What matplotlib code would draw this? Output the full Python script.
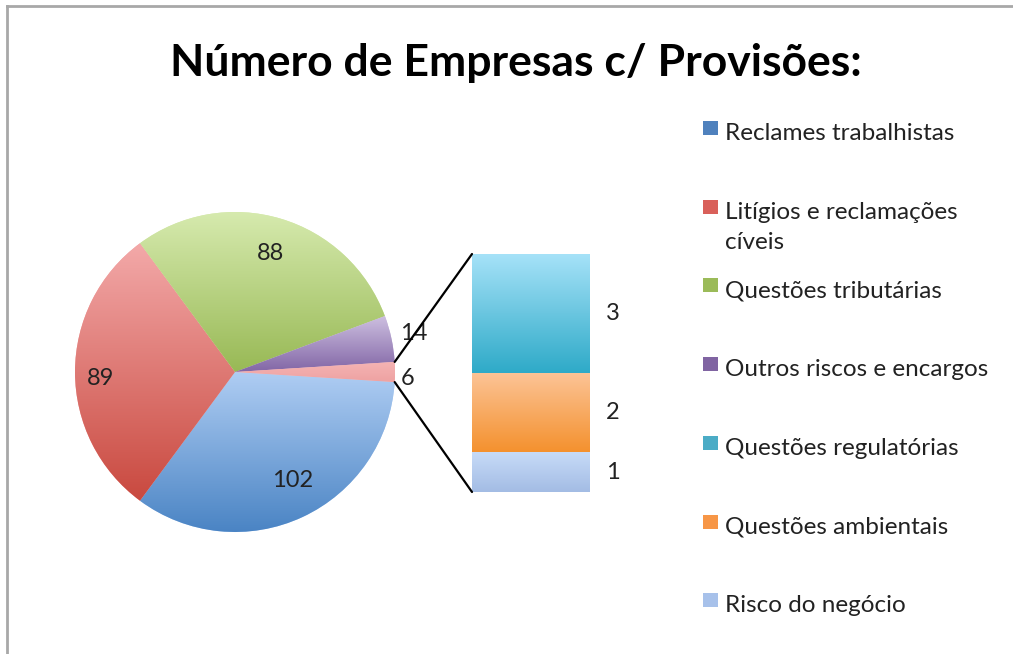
import numpy as np
import matplotlib
matplotlib.use("Agg")
import matplotlib.pyplot as plt
from matplotlib.patches import ConnectionPatch, Rectangle
from matplotlib.colors import to_rgb

plt.rcParams['font.family'] = ['Lato', 'DejaVu Sans']

title = "Número de Empresas c/ Provisões:"

# pie: main categories + "other" slice
pie_values = [102, 89, 88, 14, 6]
pie_top = ['#afcdf3', '#f3a9a9', '#d6eaae', '#cdbfe0', '#f5b4b4']
pie_bottom = ['#4a84c4', '#c9493f', '#98b955', '#8266a6', '#eea2a2']

# bar: breakdown of the "other" slice (bottom to top)
bar_values = [1, 2, 3]
bar_top = ['#c7dbf8', '#fcc497', '#a6e2f8']
bar_bottom = ['#a3bce4', '#f4912e', '#2eaac8']

legend_labels = ["Reclames trabalhistas", "Litígios e reclamações\ncíveis",
                 "Questões tributárias", "Outros riscos e encargos",
                 "Questões regulatórias", "Questões ambientais", "Risco do negócio"]
legend_colors = ['#4f81bd', '#d9605a', '#9bbb59', '#8064a2', '#4bacc6', '#f79646', '#a7c1ea']

W, H = 1013, 654
fig = plt.figure(figsize=(W / 100, H / 100), dpi=100)
fig.patch.set_facecolor('white')


def gradient_fill(ax, patch, c_top, c_bot, extent):
    t = np.linspace(0, 1, 256)[:, None]
    a, b = np.array(to_rgb(c_top)), np.array(to_rgb(c_bot))
    img = (a[None, None, :] * (1 - t[:, :, None]) + b[None, None, :] * t[:, :, None])
    img = np.repeat(img, 2, axis=1)
    im = ax.imshow(img, extent=extent, origin='upper', aspect='auto',
                   zorder=patch.get_zorder() + 0.1, interpolation='bilinear')
    im.set_clip_path(patch)


# pie axes
ax_pie = fig.add_axes([75 / W, (H - 532) / H, 320 / W, 320 / H])
total = sum(pie_values)
start = -pie_values[-1] / total * 360 / 2
wedges, _ = ax_pie.pie(pie_values, startangle=start, counterclock=False,
                       colors=pie_top, radius=1)
for w, ct, cb in zip(wedges, pie_top, pie_bottom):
    w.set_linewidth(0)
    bb = w.get_path().get_extents()
    gradient_fill(ax_pie, w, ct, cb, [bb.x0, bb.x1, bb.y0, bb.y1])

# pie labels
label_pos = [(0.36, -0.68), (-0.84, -0.04), (0.22, 0.74), (1.12, 0.24), (1.08, -0.04)]
for v, (x, y) in zip(pie_values, label_pos):
    ax_pie.text(x, y, str(v), fontsize=17, ha='center', va='center', color='#222222', zorder=5)
ax_pie.set_xlim(-1, 1)
ax_pie.set_ylim(-1, 1)
ax_pie.set_aspect('equal')
ax_pie.axis('off')

# bar axes
ax_bar = fig.add_axes([472 / W, (H - 492) / H, 118 / W, 238 / H])
bottom = 0
for v, ct, cb in zip(bar_values, bar_top, bar_bottom):
    r = ax_bar.bar(0, v, bottom=bottom, width=1, color=ct, linewidth=0)[0]
    gradient_fill(ax_bar, r, ct, cb, [-0.5, 0.5, bottom, bottom + v])
    ax_bar.text(0.69, bottom + v / 2, str(v), fontsize=17, ha='center', va='center',
                color='#222222')
    bottom += v
ax_bar.set_xlim(-0.5, 0.5)
ax_bar.set_ylim(0, sum(bar_values))
ax_bar.axis('off')

# connector lines
half = np.deg2rad(pie_values[-1] / total * 360 / 2)
for sgn, yb in [(1, sum(bar_values)), (-1, 0)]:
    con = ConnectionPatch(xyA=(np.cos(half), sgn * np.sin(half)), coordsA=ax_pie.transData,
                          xyB=(-0.5, yb), coordsB=ax_bar.transData,
                          color='black', linewidth=1.6)
    fig.add_artist(con)

# title
fig.text(516 / W, 1 - 63 / H, title, fontsize=32, fontweight='bold',
         ha='center', va='center', color='black')

# legend (each entry placed by its first line; extra lines hang below)
for i, (lab, col) in enumerate(zip(legend_labels, legend_colors)):
    y = 140 + i * 78.7
    fig.add_artist(Rectangle((703 / W, 1 - (y - 5) / H), 15 / W, 14 / H,
                             transform=fig.transFigure, facecolor=col, edgecolor='none'))
    for j, line in enumerate(lab.split('\n')):
        fig.text(725 / W, 1 - (y + j * 30) / H, line, fontsize=17.5, ha='left',
                 va='baseline', color='#222222')

# frame
fig.add_artist(plt.Line2D([7 / W, 7 / W], [0, 1 - 6 / H], transform=fig.transFigure,
                          color='#a8a8a8', linewidth=2))
fig.add_artist(plt.Line2D([7 / W, 1], [1 - 6 / H, 1 - 6 / H], transform=fig.transFigure,
                          color='#a8a8a8', linewidth=2))

fig.savefig('out.png', dpi=100)
